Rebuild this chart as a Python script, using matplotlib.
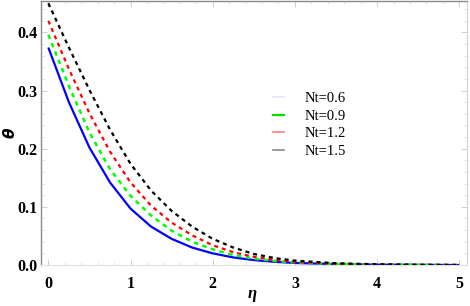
import matplotlib
matplotlib.use("Agg")
import matplotlib.pyplot as plt
from matplotlib.lines import Line2D
from matplotlib.ticker import MultipleLocator

eta = [0, 0.25, 0.5, 0.75, 1.0, 1.25, 1.5, 1.75, 2.0, 2.25, 2.5, 2.75, 3.0, 3.5, 4.0, 4.5, 5.0]
theta_06 = [0.374, 0.280, 0.202, 0.142, 0.097, 0.066, 0.045, 0.030, 0.020, 0.013, 0.0085, 0.0055, 0.0035, 0.0015, 0.0006, 0.0002, 0.0]
theta_09 = [0.396, 0.308, 0.228, 0.165, 0.119, 0.085, 0.059, 0.040, 0.027, 0.017, 0.011, 0.007, 0.0045, 0.0018, 0.0007, 0.0002, 0.0]
theta_12 = [0.420, 0.337, 0.261, 0.195, 0.142, 0.102, 0.073, 0.051, 0.034, 0.022, 0.014, 0.009, 0.0055, 0.0022, 0.0009, 0.0003, 0.0]
theta_15 = [0.450, 0.374, 0.301, 0.233, 0.174, 0.128, 0.093, 0.066, 0.045, 0.030, 0.019, 0.012, 0.0075, 0.003, 0.0012, 0.0004, 0.0]
labels = ["Nt=0.6", "Nt=0.9", "Nt=1.2", "Nt=1.5"]

fig = plt.figure(figsize=(4.7, 3.06), dpi=100)
ax = fig.add_axes([40.7/470, 1-265/306, (467-40.7)/470, (265-1)/306])

ax.plot(eta, theta_06, color="#0000ff", lw=1.6, solid_capstyle="butt")
ax.plot(eta, theta_09, color="#00ff00", lw=1.8, dashes=(1.8, 1.8))
ax.plot(eta, theta_12, color="#ff0000", lw=1.6, dashes=(1.8, 1.8))
ax.plot(eta, theta_15, color="#000000", lw=1.6, dashes=(1.8, 1.8))

ax.set_xlim(-0.093, 5.094)
ax.set_ylim(0, 0.454)

ax.xaxis.set_minor_locator(MultipleLocator(0.2))
ax.yaxis.set_minor_locator(MultipleLocator(0.02))
ax.set_xticks([0, 1, 2, 3, 4, 5])
ax.set_xticklabels(["0", "1", "2", "3", "4", "5"])
ax.set_yticks([0.0, 0.1, 0.2, 0.3, 0.4])
ax.set_yticklabels(["0.0", "0.1", "0.2", "0.3", "0.4"])

for lab in ax.get_xticklabels() + ax.get_yticklabels():
    lab.set_fontfamily("Liberation Serif")
    lab.set_fontweight("bold")
    lab.set_fontsize(11.5)

ax.tick_params(which="major", direction="in", length=4, width=0.6, color="#c8c8c8",
               top=True, right=True)
ax.tick_params(axis="y", which="major", pad=2.5)
ax.tick_params(axis="x", which="major", pad=8)
ax.tick_params(which="minor", direction="in", length=2, width=0.5, color="#d8d8d8",
               top=True, right=True)

for side in ["left", "top"]:
    ax.spines[side].set_color("#8a8a8a")
    ax.spines[side].set_linewidth(1.0)
ax.spines["right"].set_color("#d0d0d0")
ax.spines["bottom"].set_color("#e0e0e0")
ax.spines["right"].set_linewidth(0.8)
ax.spines["bottom"].set_linewidth(0.8)

fig.text(10/470, 1-133/306, r"$\boldsymbol{\theta}$", ha="center", va="center", fontsize=11,
         rotation=90, fontfamily="Liberation Serif", fontstyle="italic", fontweight="bold")
fig.text(252/470, 1-294/306, "η", ha="center", va="center", fontsize=12,
         fontfamily="Liberation Serif", fontstyle="italic", fontweight="bold")

handles = [
    Line2D([0], [0], color="#e4e4f8", lw=1.2),
    Line2D([0], [0], color="#00e000", lw=1.6),
    Line2D([0], [0], color="#ff8080", lw=1.2),
    Line2D([0], [0], color="#8a8a8a", lw=1.2),
]
leg = fig.legend(handles, labels, loc="upper left", bbox_to_anchor=(273/470, 1-92/306),
                 frameon=False, handlelength=0.75, handletextpad=1.45, labelspacing=0.3,
                 borderpad=0, borderaxespad=0,
                 prop={"family": "Liberation Serif", "size": 10.5})

fig.savefig("out.png", dpi=100)
